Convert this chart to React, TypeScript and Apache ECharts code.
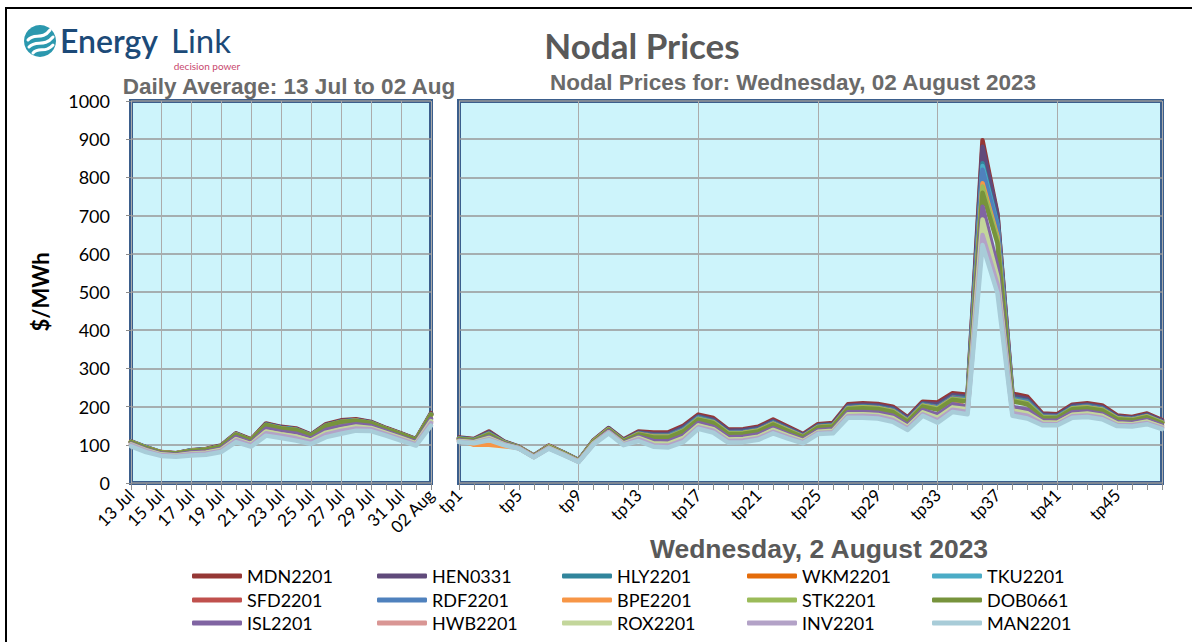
import React, { useEffect, useRef } from "react";
import * as echarts from "echarts";

const dayLabels = ["13 Jul","14 Jul","15 Jul","16 Jul","17 Jul","18 Jul","19 Jul","20 Jul","21 Jul","22 Jul","23 Jul","24 Jul","25 Jul","26 Jul","27 Jul","28 Jul","29 Jul","30 Jul","31 Jul","01 Aug","02 Aug"];
const tpLabels = ["tp1","tp2","tp3","tp4","tp5","tp6","tp7","tp8","tp9","tp10","tp11","tp12","tp13","tp14","tp15","tp16","tp17","tp18","tp19","tp20","tp21","tp22","tp23","tp24","tp25","tp26","tp27","tp28","tp29","tp30","tp31","tp32","tp33","tp34","tp35","tp36","tp37","tp38","tp39","tp40","tp41","tp42","tp43","tp44","tp45","tp46","tp47","tp48"];
const yTicks = [0, 1000, 100];

const nodeNames = ["MDN2201","HEN0331","HLY2201","WKM2201","TKU2201","SFD2201","RDF2201","BPE2201","STK2201","DOB0661","ISL2201","HWB2201","ROX2201","INV2201","MAN2201"];
const nodeColors = ["#953735","#604a7b","#31859c","#e46c0a","#4bacc6","#c0504d","#4f81bd","#f79646","#9bbb59","#77933c","#8064a2","#d99694","#c3d69b","#b3a2c7","#a8ccd8"];

// Daily averages, 13 Jul .. 02 Aug
const dailyMDN = [109,94,81,78,86,89,98,130,114,156,147,143,127,154,164,167,160,144,130,115,183];
const dailyHEN = [108,93,80,78,85,88,97,129,113,154,146,141,126,152,162,165,159,143,129,114,181];
const dailyHLY = [108,93,80,77,85,88,96,128,112,153,144,140,125,151,161,164,158,142,128,113,180];
const dailyWKM = [107,92,80,77,84,87,96,127,112,152,143,139,124,150,160,163,157,142,128,113,179];
const dailyTKU = [108,93,80,77,85,87,96,128,112,152,144,140,124,150,160,164,157,142,128,113,179];
const dailySFD = [107,92,80,77,84,87,96,127,112,152,143,139,124,150,160,163,157,141,127,113,179];
const dailyRDF = [107,92,79,77,84,87,96,127,111,152,143,139,124,150,159,163,157,141,127,113,179];
const dailyBPE = [107,92,80,77,84,87,95,127,111,151,143,138,123,149,159,163,156,141,127,112,178];
const dailySTK = [107,92,79,77,84,87,95,126,111,151,142,138,123,149,159,162,156,141,127,112,178];
const dailyDOB = [107,92,80,77,84,87,96,127,112,152,143,139,124,150,160,163,157,142,128,113,179];
const dailyISL = [103,88,77,74,80,82,90,120,105,142,134,129,116,139,148,154,149,135,121,107,168];
const dailyHWB = [100,85,74,72,76,79,86,114,101,134,127,121,110,130,140,146,143,130,117,103,160];
const dailyROX = [101,86,75,72,77,79,87,115,102,135,128,122,111,132,141,148,144,131,118,104,162];
const dailyINV = [99,84,73,71,75,77,84,112,99,130,124,117,107,127,136,143,141,128,115,101,157];
const dailyMAN = [96,81,71,69,72,74,81,107,95,124,118,111,102,120,129,137,136,124,111,98,150];

// Trading periods, Wednesday 02 August 2023
const tpMDN = [119,115,135,109,95,72,98,80,60,112,144,114,135,132,133,150,179,170,140,141,147,166,147,128,154,157,206,209,207,200,172,213,211,235,231,897,704,234,226,182,180,205,209,203,177,173,182,165];
const tpHEN = [118,114,133,108,94,71,97,79,59,111,143,112,132,128,129,146,175,166,137,138,144,162,144,126,151,154,202,205,203,196,169,209,206,230,226,880,700,228,220,179,177,202,205,199,174,170,179,163];
const tpHLY = [117,113,130,107,94,71,96,79,59,110,141,111,130,125,125,141,172,162,133,134,140,159,141,123,149,152,199,201,199,192,165,206,200,225,221,837,680,222,215,176,174,198,202,196,171,168,176,160];
const tpWKM = [115,112,128,106,93,70,96,78,58,109,140,109,128,121,121,118,151,159,130,131,137,155,138,121,146,149,195,198,196,188,162,202,195,220,193,793,650,190,183,159,158,195,198,192,169,165,174,158];
const tpTKU = [116,112,129,106,94,71,96,78,59,109,140,110,129,123,123,139,170,160,131,132,138,157,139,122,147,150,197,199,197,190,164,204,198,223,218,830,675,219,212,174,173,196,200,194,170,167,175,159];
const tpSFD = [116,112,129,106,94,71,96,78,59,109,140,110,129,123,123,139,170,160,131,132,138,157,139,122,147,150,197,199,197,190,164,204,198,223,218,810,670,219,212,174,173,196,200,194,170,167,175,159];
const tpRDF = [116,112,129,106,94,71,96,78,59,109,140,110,129,122,123,139,170,160,131,132,138,157,139,122,147,150,197,199,197,190,164,204,198,222,218,820,672,219,212,174,173,196,200,194,170,167,175,159];
const tpBPE = [115,100,100,96,93,70,96,78,58,109,140,109,128,121,121,118,151,159,130,131,137,155,138,121,146,149,195,198,196,188,162,202,195,220,193,785,645,190,183,159,158,195,198,192,169,165,174,158];
const tpSTK = [115,112,128,106,93,70,96,78,58,109,140,109,128,121,121,137,168,159,130,131,137,155,138,121,146,149,195,198,196,188,162,202,195,220,216,776,640,217,209,173,171,195,198,192,169,165,174,158];
const tpDOB = [115,111,127,105,93,70,95,78,58,108,139,109,127,119,119,135,166,157,128,129,135,153,136,120,145,148,194,196,194,186,160,200,192,218,213,760,628,214,206,171,170,193,196,190,167,164,172,157];
const tpISL = [112,108,121,103,92,69,93,76,57,105,136,105,121,110,109,124,157,147,120,121,127,144,128,114,138,141,185,186,184,176,152,191,179,206,200,723,566,199,192,163,163,185,187,181,160,158,165,151];
const tpHWB = [109,106,117,101,91,68,92,74,56,103,133,102,117,102,101,116,149,140,113,114,120,137,122,109,133,135,178,179,177,168,146,183,169,196,190,680,530,188,180,157,157,178,180,174,155,153,160,146];
const tpROX = [110,107,118,101,91,68,92,75,56,104,133,103,118,104,103,118,151,141,114,115,121,139,124,110,134,137,180,180,178,170,147,185,171,198,193,690,540,190,183,159,158,179,182,176,156,154,161,147];
const tpINV = [108,105,115,100,91,68,91,74,56,102,132,101,115,99,98,112,146,137,110,111,117,134,120,107,131,133,175,176,174,165,143,180,164,192,186,649,520,183,176,155,154,175,177,171,152,151,157,144];
const tpMAN = [107,104,112,99,90,67,90,73,55,101,130,99,110,95,93,107,142,132,106,107,113,130,116,104,128,130,171,171,169,160,139,176,158,186,180,623,497,176,169,151,151,171,173,167,149,148,154,141];

const dailySeries = [dailyMDN,dailyHEN,dailyHLY,dailyWKM,dailyTKU,dailySFD,dailyRDF,dailyBPE,dailySTK,dailyDOB,dailyISL,dailyHWB,dailyROX,dailyINV,dailyMAN];
const tpSeries = [tpMDN,tpHEN,tpHLY,tpWKM,tpTKU,tpSFD,tpRDF,tpBPE,tpSTK,tpDOB,tpISL,tpHWB,tpROX,tpINV,tpMAN];

// layout
const legendCols = [192, 377, 562, 747, 932];
const legendRows = [567, 591, 614];
const PANEL_BG = "#cdf4fb";
const PANEL_BORDER = "#3b5e8c";

export default function App() {
  const ref = useRef<HTMLDivElement>(null);
  useEffect(() => {
    if (!ref.current) return;
    const chart = echarts.init(ref.current, undefined, { renderer: "svg" });

    const series: any[] = [];
    nodeNames.forEach((name, i) => {
      const common = {
        type: "line",
        name,
        showSymbol: false,
        symbol: "none",
        color: nodeColors[i],
        itemStyle: { color: nodeColors[i] },
        lineStyle: { width: 4.5, color: nodeColors[i], join: "round", cap: "round" },
        emphasis: { disabled: true },
        silent: true,
        z: 3 + i * 0.01,
      };
      series.push({ ...common, xAxisIndex: 0, yAxisIndex: 0, data: dailySeries[i] });
      series.push({ ...common, xAxisIndex: 1, yAxisIndex: 1, data: tpSeries[i] });
    });

    const legends = nodeNames.map((name, i) => ({
      data: [name],
      left: legendCols[i % 5],
      top: legendRows[Math.floor(i / 5)],
      icon: "roundRect",
      itemWidth: 50,
      itemHeight: 5,
      padding: 0,
      selectedMode: false,
      textStyle: { fontFamily: "Lato", fontSize: 18, color: "#000" },
    }));

    const xCommon = {
      type: "category",
      boundaryGap: false,
      axisLine: { show: false },
      axisTick: { show: true, interval: 0, length: 7, lineStyle: { color: "#8c8c8c", width: 1 } },
    };
    const yCommon = {
      type: "value",
      min: yTicks[0],
      max: yTicks[1],
      interval: yTicks[2],
      axisLine: { show: false },
      splitLine: { show: true, lineStyle: { color: "#979797", width: 1.5 } },
    };

    const option: any = {
      animation: false,
      textStyle: { fontFamily: "Lato" },
      grid: [
        { left: 131, top: 101, width: 300, height: 382, show: true, backgroundColor: PANEL_BG, borderColor: PANEL_BORDER, borderWidth: 4, containLabel: false },
        { left: 459, top: 101, width: 703, height: 382, show: true, backgroundColor: PANEL_BG, borderColor: PANEL_BORDER, borderWidth: 4, containLabel: false },
      ],
      xAxis: [
        {
          ...xCommon,
          gridIndex: 0,
          data: dayLabels,
          axisLabel: { interval: 1, rotate: 45, fontSize: 17, color: "#000", fontFamily: "Lato", margin: 9 },
          splitLine: { show: true, interval: 1, lineStyle: { color: "#ababab", width: 1 } },
        },
        {
          ...xCommon,
          gridIndex: 1,
          data: tpLabels,
          axisLabel: { interval: 3, rotate: 45, fontSize: 17, color: "#000", fontFamily: "Lato", margin: 9 },
          splitLine: { show: true, interval: (i: number) => i % 8 === 0 || i === 47, lineStyle: { color: "#ababab", width: 1 } },
        },
      ],
      yAxis: [
        {
          ...yCommon,
          gridIndex: 0,
          name: "$/MWh",
          nameLocation: "middle",
          nameGap: 80,
          nameTextStyle: { fontFamily: "Lato", fontSize: 22, fontWeight: "bold", color: "#000" },
          axisTick: { show: true, length: 5, lineStyle: { color: "#8c8c8c" } },
          axisLabel: { fontSize: 18, color: "#000", fontFamily: "Lato", margin: 21, formatter: (v: number) => String(v) },
        },
        {
          ...yCommon,
          gridIndex: 1,
          axisTick: { show: false },
          axisLabel: { show: false },
        },
      ],
      legend: legends,
      graphic: [
        { type: "rect", silent: true, shape: { x: 6, y: 8, width: 1200, height: 700 }, style: { fill: "none", stroke: "#000", lineWidth: 2 } },
        { type: "circle", silent: true, shape: { cx: 40, cy: 41, r: 16 }, style: { fill: "#2b98ae" } },
        { type: "bezierCurve", silent: true, shape: { x1: 28, y1: 40, x2: 50, y2: 30, cpx1: 34, cpy1: 32, cpx2: 42, cpy2: 41 }, style: { stroke: "#fff", lineWidth: 3, fill: "none", lineCap: "round" } },
        { type: "bezierCurve", silent: true, shape: { x1: 29, y1: 47, x2: 53, y2: 37, cpx1: 36, cpy1: 39, cpx2: 44, cpy2: 48 }, style: { stroke: "#fff", lineWidth: 3, fill: "none", lineCap: "round" } },
        { type: "bezierCurve", silent: true, shape: { x1: 33, y1: 53, x2: 53, y2: 45, cpx1: 39, cpy1: 46, cpx2: 45, cpy2: 54 }, style: { stroke: "#fff", lineWidth: 3, fill: "none", lineCap: "round" } },
        { type: "text", silent: true, style: { x: 60, y: 40, text: "Energy", font: "600 32px Lato", fill: "#1c4a78", textAlign: "left", textVerticalAlign: "middle" } },
        { type: "text", silent: true, style: { x: 171, y: 40, text: "Link", font: "normal 33px Lato", fill: "#1c4a78", textAlign: "left", textVerticalAlign: "middle" } },
        { type: "text", silent: true, style: { x: 207, y: 61, text: "decision power", font: "10px Lato", fill: "#c8486e", textAlign: "center", textVerticalAlign: "top" } },
        { type: "text", silent: true, style: { x: 642, y: 45, text: "Nodal Prices", font: "bold 35px Lato", fill: "#595959", textAlign: "center", textVerticalAlign: "middle" } },
        { type: "text", silent: true, style: { x: 289, y: 86, text: "Daily Average: 13 Jul to 02 Aug", font: "bold 22.5px 'Liberation Sans'", fill: "#6a6a6a", textAlign: "center", textVerticalAlign: "middle" } },
        { type: "text", silent: true, style: { x: 793, y: 82, text: "Nodal Prices for: Wednesday, 02 August 2023", font: "bold 22.5px 'Liberation Sans'", fill: "#6a6a6a", textAlign: "center", textVerticalAlign: "middle" } },
        { type: "text", silent: true, style: { x: 819, y: 549, text: "Wednesday, 2 August 2023", font: "bold 26.5px 'Liberation Sans'", fill: "#595959", textAlign: "center", textVerticalAlign: "middle" } },
      ],
      series,
    };
    chart.setOption(option);
    return () => chart.dispose();
  }, []);

  return (
    <div
      ref={ref}
      style={{ position: "fixed", left: 0, top: 0, width: 1192, height: 642, background: "#fff" }}
    />
  );
}
